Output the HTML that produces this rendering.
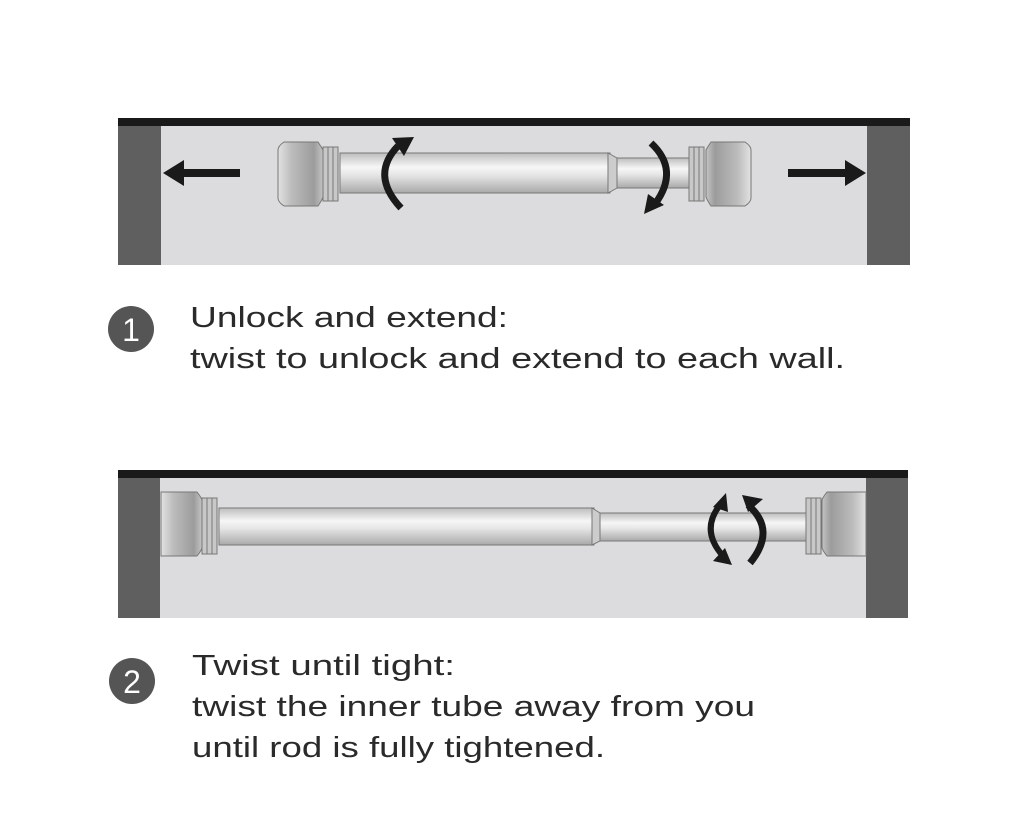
<!DOCTYPE html>
<html><head><style>
html,body{margin:0;padding:0;background:#fff;width:1020px;height:826px;overflow:hidden}
text{font-family:"Liberation Sans",sans-serif;fill:#2a2a2a}
</style></head><body>
<svg width="1020" height="826" viewBox="0 0 1020 826" xmlns="http://www.w3.org/2000/svg">
<defs>
<linearGradient id="tb" x1="0" y1="0" x2="0" y2="1">
<stop offset="0" stop-color="#bdbdbd"/><stop offset="0.35" stop-color="#f6f6f6"/><stop offset="0.55" stop-color="#e6e6e6"/><stop offset="1" stop-color="#a9a9a9"/></linearGradient>
<linearGradient id="cp" x1="0" y1="0" x2="1" y2="0">
<stop offset="0" stop-color="#e2e2e2"/><stop offset="0.3" stop-color="#bcbcbc"/><stop offset="0.8" stop-color="#9c9c9c"/><stop offset="1" stop-color="#c4c4c4"/></linearGradient>
<linearGradient id="cpr" x1="1" y1="0" x2="0" y2="0">
<stop offset="0" stop-color="#e2e2e2"/><stop offset="0.3" stop-color="#bcbcbc"/><stop offset="0.8" stop-color="#9c9c9c"/><stop offset="1" stop-color="#c4c4c4"/></linearGradient>
</defs>

<!-- Panel 1 -->
<rect x="118" y="118" width="792" height="147" fill="#dcdcde"/>
<rect x="118" y="118" width="792" height="8" fill="#1a1a1a"/>
<rect x="118" y="126" width="43" height="139" fill="#5f5f5f"/>
<rect x="867" y="126" width="43" height="139" fill="#5f5f5f"/>
<!-- arrows -->
<rect x="178" y="169" width="62" height="8" fill="#1a1a1a"/>
<polygon points="163,173 184,160 184,186" fill="#1a1a1a"/>
<rect x="788" y="169" width="62" height="8" fill="#1a1a1a"/>
<polygon points="866,173 845,160 845,186" fill="#1a1a1a"/>
<!-- rod1 -->
<rect x="340" y="153" width="270" height="40" fill="url(#tb)" stroke="#777"/>
<polygon points="608,153 617,158 617,188 608,193" fill="#ccc" stroke="#777"/>
<rect x="617" y="158" width="72" height="30" fill="url(#tb)" stroke="#777"/>
<path d="M284,142 h34 q4,6 5,8 v47 q-1,3 -5,9 h-34 q-6,-4 -6,-8 v-48 q0,-4 6,-8z" fill="url(#cp)" stroke="#777"/>
<g fill="#c8c8c8" stroke="#777"><rect x="323" y="147" width="5" height="54"/><rect x="328" y="147" width="5" height="54"/><rect x="333" y="147" width="5" height="54"/></g>
<path d="M745,142 h-34 q-4,6 -5,8 v47 q1,3 5,9 h34 q6,-4 6,-8 v-48 q0,-4 -6,-8z" fill="url(#cpr)" stroke="#777"/>
<g fill="#c8c8c8" stroke="#777"><rect x="689" y="147" width="5" height="54"/><rect x="694" y="147" width="5" height="54"/><rect x="699" y="147" width="5" height="54"/></g>
<!-- twist arrows 1 -->
<path d="M401,208 Q370,175 398,146" fill="none" stroke="#1a1a1a" stroke-width="7"/>
<polygon points="392,138 414,137 404,156" fill="#1a1a1a"/>
<path d="M651,143 Q680,170 655,204" fill="none" stroke="#1a1a1a" stroke-width="7"/>
<polygon points="644,214 648,194 664,205" fill="#1a1a1a"/>

<!-- Panel 2 -->
<rect x="118" y="470" width="790" height="148" fill="#dcdcde"/>
<rect x="118" y="470" width="790" height="8" fill="#1a1a1a"/>
<rect x="118" y="478" width="42" height="140" fill="#5f5f5f"/>
<rect x="866" y="478" width="42" height="140" fill="#5f5f5f"/>
<rect x="219" y="508" width="375" height="37" fill="url(#tb)" stroke="#777"/>
<polygon points="592,508 600,513 600,541 592,545" fill="#ccc" stroke="#777"/>
<rect x="600" y="513" width="206" height="28" fill="url(#tb)" stroke="#777"/>
<path d="M161,492 h36 q4,5 5,8 v48 q-1,3 -5,8 h-36z" fill="url(#cp)" stroke="#777"/>
<g fill="#c8c8c8" stroke="#777"><rect x="202" y="498" width="5" height="56"/><rect x="207" y="498" width="5" height="56"/><rect x="212" y="498" width="5" height="56"/></g>
<path d="M866,492 h-39 q-4,5 -5,8 v48 q1,3 5,8 h39z" fill="url(#cpr)" stroke="#777"/>
<g fill="#c8c8c8" stroke="#777"><rect x="806" y="498" width="5" height="56"/><rect x="811" y="498" width="5" height="56"/><rect x="816" y="498" width="5" height="56"/></g>
<path d="M723,556 Q700,530 720,505" fill="none" stroke="#1a1a1a" stroke-width="6"/>
<polygon points="726,493 728,512 713,507" fill="#1a1a1a"/>
<polygon points="713,561 732,565 725,548" fill="#1a1a1a"/>
<path d="M748,505 Q777,530 750,563" fill="none" stroke="#1a1a1a" stroke-width="7"/>
<polygon points="742,495 763,499 748,512" fill="#1a1a1a"/>

<!-- Step 1 text -->
<circle cx="131" cy="329" r="23" fill="#555"/>
<text x="131" y="341" font-size="32" text-anchor="middle" style="fill:#fff">1</text>
<text x="190" y="327" font-size="29" textLength="318" lengthAdjust="spacingAndGlyphs">Unlock and extend:</text>
<text x="190" y="368" font-size="29" textLength="655" lengthAdjust="spacingAndGlyphs">twist to unlock and extend to each wall.</text>

<!-- Step 2 text -->
<circle cx="132" cy="681" r="23" fill="#555"/>
<text x="132" y="693" font-size="32" text-anchor="middle" style="fill:#fff">2</text>
<text x="192" y="675" font-size="29" textLength="263" lengthAdjust="spacingAndGlyphs">Twist until tight:</text>
<text x="192" y="716" font-size="29" textLength="563" lengthAdjust="spacingAndGlyphs">twist the inner tube away from you</text>
<text x="192" y="757" font-size="29" textLength="413" lengthAdjust="spacingAndGlyphs">until rod is fully tightened.</text>
</svg>
</body></html>
